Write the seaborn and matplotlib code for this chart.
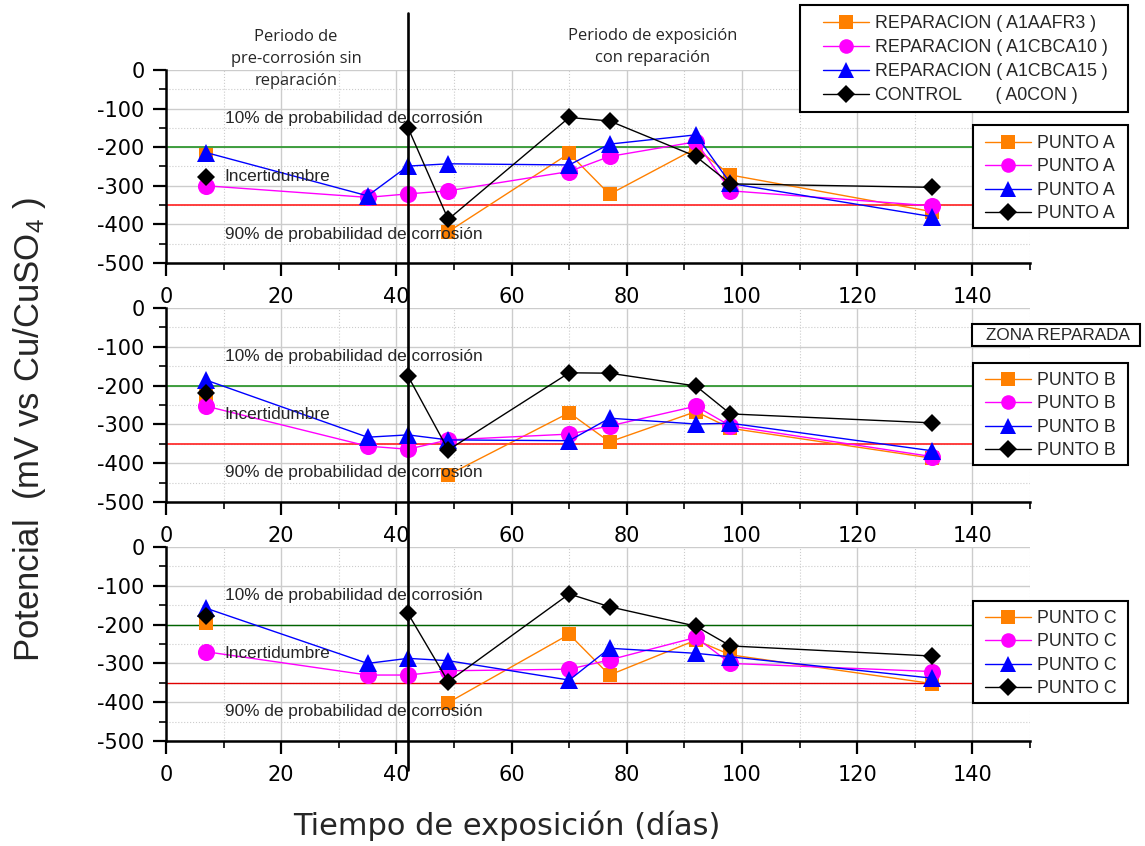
import matplotlib
matplotlib.use("Agg")
import matplotlib.pyplot as plt
import matplotlib.transforms as mtransforms
from matplotlib.lines import Line2D
from matplotlib.patches import Rectangle
from matplotlib.ticker import MultipleLocator
import seaborn as sns
import pandas as pd
import numpy as np

sns.set_style("white")
plt.rcParams['font.family'] = ['Liberation Sans', 'DejaVu Sans']
plt.rcParams['axes.unicode_minus'] = False
plt.rcParams['mathtext.fontset'] = 'custom'
plt.rcParams['mathtext.rm'] = 'Liberation Sans'
plt.rcParams['mathtext.default'] = 'regular'

# exposure days
dias = [7, 35, 42, 49, 70, 77, 92, 98, 133]
nan = np.nan

# punto A
a_afr3 = [-220, nan, nan, -419, -216, -322, -203, -272, -367]
a_cbca10 = [-300, -330, -321, -313, -263, -224, -186, -313, -352]
a_cbca15 = [-214, -326, -249, -243, -246, -192, -168, -294, -380]
a_control = [-278, nan, -149, -387, -123, -132, -224, -295, -304]

# punto B (zona reparada)
b_afr3 = [-226, nan, nan, -430, -270, -345, -267, -310, -387]
b_cbca10 = [-253, -356, -364, -340, -325, -304, -253, -304, -383]
b_cbca15 = [-186, -333, -327, -340, -342, -284, -299, -297, -368]
b_control = [-218, nan, -175, -366, -167, -168, -201, -273, -296]

# punto C
c_afr3 = [-195, nan, nan, -401, -225, -330, -240, -278, -352]
c_cbca10 = [-270, -330, -330, -319, -315, -291, -233, -300, -321]
c_cbca15 = [-158, -300, -287, -293, -343, -261, -274, -283, -338]
c_control = [-178, nan, -171, -347, -121, -154, -204, -255, -281]

series_names = ["REPARACION ( A1AAFR3 )", "REPARACION ( A1CBCA10 )",
                "REPARACION ( A1CBCA15 )", "CONTROL       ( A0CON )"]
colors = ["#FF8000", "#FF00FF", "#0000FF", "#000000"]
markers = ["s", "o", "^", "D"]
msizes = [10, 12.3, 13, 9.6]
leg_msizes = [9.5, 10.5, 11, 9]

panels = [
    ("PUNTO A", [a_afr3, a_cbca10, a_cbca15, a_control]),
    ("PUNTO B", [b_afr3, b_cbca10, b_cbca15, b_control]),
    ("PUNTO C", [c_afr3, c_cbca10, c_cbca15, c_control]),
]

W, H = 1145, 846
fig = plt.figure(figsize=(W / 100, H / 100), dpi=100)

left, right = 166 / W, 1030 / W
tops = [70, 308, 547]
bottoms = [263, 502, 741]


def fig_box(x0, y0, x1, y1):
    fig.add_artist(Rectangle((x0 / W, 1 - y1 / H), (x1 - x0) / W, (y1 - y0) / H,
                             transform=fig.transFigure, fc="white", ec="black",
                             lw=1.5, zorder=4.9))


def add_legend(labels, x, y_top, spacing):
    handles = [Line2D([], [], color=colors[i], marker=markers[i], markersize=leg_msizes[i],
                      markeredgewidth=0, lw=1) for i in range(4)]
    lg = fig.legend(handles, labels, loc="upper left",
                    bbox_to_anchor=(x / W, 1 - y_top / H), fontsize=12.8,
                    frameon=False, handlelength=2.6, handletextpad=0.35,
                    labelspacing=spacing, borderpad=0, borderaxespad=0)
    lg.set_zorder(6)


for k, (punto, vals) in enumerate(panels):
    ax = fig.add_axes([left, 1 - bottoms[k] / H, right - left, (bottoms[k] - tops[k]) / H])
    for i in range(4):
        y = np.array(vals[i], dtype=float)
        seg = np.cumsum(np.isnan(y))
        df = pd.DataFrame({"dias": dias, "mv": y, "seg": seg}).dropna()
        sns.lineplot(data=df, x="dias", y="mv", units="seg", estimator=None,
                     color=colors[i], marker=markers[i], markersize=msizes[i],
                     markeredgewidth=0, linewidth=1, ax=ax, legend=False,
                     zorder=3 + i)

    if k < 2:
        ax.axhline(-200, color="#339933", lw=1.3, zorder=2)
        ax.axhline(-350, color="#FF3030", lw=1.3, zorder=2)
    else:
        ax.axhline(-200, color="#006400", lw=1.0, zorder=2)
        ax.axhline(-350, color="#E00000", lw=1.0, zorder=2)

    ax.text(10.2, -125, "10% de probabilidad de corrosión", fontsize=12.4, va="center", zorder=8)
    ax.text(10.2, -275, "Incertidumbre", fontsize=12.4, va="center", zorder=8)
    ax.text(10.2, -425, "90% de probabilidad de corrosión", fontsize=12.4, va="center", zorder=8)

    ax.set_xlim(0, 150)
    ax.set_ylim(-500, 0)
    ax.xaxis.set_major_locator(MultipleLocator(20))
    ax.xaxis.set_minor_locator(MultipleLocator(10))
    ax.yaxis.set_major_locator(MultipleLocator(100))
    ax.yaxis.set_minor_locator(MultipleLocator(50))
    ax.grid(which="major", color="#cccccc", lw=1, ls="-", zorder=0)
    ax.grid(which="minor", color="#cccccc", lw=0.8, ls=":", zorder=0)
    ax.set_axisbelow(True)
    for s in ["top", "right"]:
        ax.spines[s].set_visible(False)
    for s in ["left", "bottom"]:
        ax.spines[s].set_color("black")
        ax.spines[s].set_linewidth(1.8)
    ax.tick_params(which="major", direction="out", length=9.5, width=1.6,
                   bottom=True, left=True, colors="black")
    ax.tick_params(which="minor", direction="out", length=5, width=1.4,
                   bottom=True, left=True)
    ax.tick_params(axis="x", which="major", pad=8)
    ax.tick_params(axis="y", which="major", pad=6)
    for lab in ax.get_xticklabels() + ax.get_yticklabels():
        lab.set_fontfamily("DejaVu Sans")
        lab.set_fontsize(15)
    ax.set_xlabel("")
    ax.set_ylabel("")
    ax.patch.set_alpha(0)

    box_top, box_bot, row_top = [(125, 228, 135), (363, 465, 372), (601, 703, 610)][k]
    fig_box(973, box_top, 1128, box_bot)
    add_legend([punto] * 4, 985, row_top, 0.36)

axes = fig.axes

# main legend
fig_box(800, 5, 1128, 112)
add_legend(series_names, 823, 15, 0.39)

fig_box(972, 324, 1140, 346)
fig.text(1058 / W, 1 - 335 / H, "ZONA REPARADA", fontsize=12.3, ha="center", va="center",
         zorder=6)

# vertical line separating the two periods, at day 42
trans = mtransforms.blended_transform_factory(axes[2].transData, fig.transFigure)
fig.add_artist(Line2D([42, 42], [1 - 770 / H, 1 - 13 / H], transform=trans,
                      color="black", lw=1.9, zorder=10))

fig.text(296 / W, 1 - 59 / H, "Periodo de\npre-corrosión sin\nreparación", fontsize=11.9,
         ha="center", va="center", linespacing=1.52, family=["Open Sans", "DejaVu Sans"])
fig.text(653 / W, 1 - 47 / H, "Periodo de exposición\ncon reparación", fontsize=11.9,
         ha="center", va="center", linespacing=1.52, family=["Open Sans", "DejaVu Sans"])

fig.text(30 / W, 1 - 430 / H, "Potencial  (mV vs Cu/CuSO$_4$ )", fontsize=25,
         rotation=90, ha="center", va="center")
fig.text(507 / W, 1 - 826 / H, "Tiempo de exposición (días)", fontsize=22,
         ha="center", va="center", family="DejaVu Sans")

fig.savefig("out.png", dpi=100)
